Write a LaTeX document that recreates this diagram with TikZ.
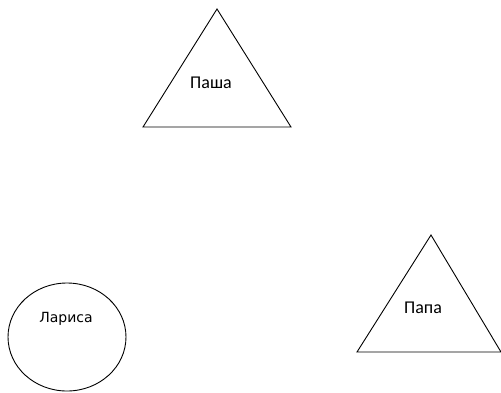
\documentclass[tikz,border=0pt]{standalone}
\usepackage{fontspec}
\setmainfont{Carlito}
\newfontfamily\dejavu{DejaVu Sans}
\usetikzlibrary{positioning}

\begin{document}
\begin{tikzpicture}[
  x=1pt, y=-1pt,
  figline/.style={draw=black, line width=0.9pt, line join=miter},
  lbl/.style={font=\fontsize{18}{20}\selectfont, inner sep=0pt},
  lblc/.style={font=\dejavu\fontsize{14}{16}\selectfont, inner sep=0pt},
]
\useasboundingbox (0,0) rectangle (501,392);

% Pasha (top triangle)
\coordinate (pTop) at (217,9);
\coordinate (pLeft) at (143,127);
\coordinate (pRight) at (291,127);
\draw[figline] (pTop) -- (pLeft) -- (pRight) -- cycle;
\node[lbl] (pasha) at (211,83) {Паша};

% Papa (bottom right triangle)
\coordinate (qTop) at (431,235);
\coordinate (qLeft) at (357,352);
\coordinate (qRight) at (501,352);
\draw[figline] (qTop) -- (qLeft) -- (qRight) -- cycle;
\node[lbl] (papa) at (423,308) {Папа};

% Larisa (circle)
\coordinate (lc) at (67,337);
\draw[figline] (lc) ellipse [x radius=59, y radius=54];
\node[lblc] (larisa) at (66,319) {Лариса};

\end{tikzpicture}
\end{document}
